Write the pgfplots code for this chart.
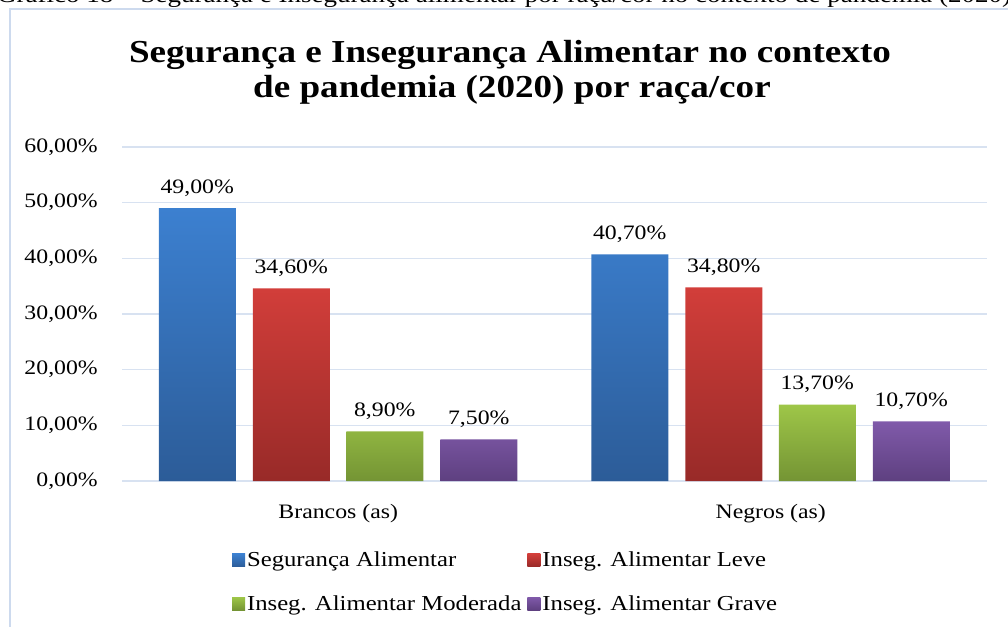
\documentclass[border=0pt]{standalone}
\usepackage{fontspec}
\setmainfont{Liberation Serif}[FakeStretch=1.16]
\usepackage{pgfplots}
\pgfplotsset{compat=1.18}
\definecolor{blueT}{RGB}{60,128,208}
\definecolor{blueB}{RGB}{44,92,152}
\definecolor{redT}{RGB}{210,62,58}
\definecolor{redB}{RGB}{152,42,40}
\definecolor{greenT}{RGB}{158,198,72}
\definecolor{greenB}{RGB}{116,148,52}
\definecolor{purpT}{RGB}{128,90,170}
\definecolor{purpB}{RGB}{94,64,128}
\definecolor{gridc}{RGB}{216,226,241}
\definecolor{framec}{RGB}{205,218,238}
\begin{document}
\begin{tikzpicture}[font=\fontsize{20.5}{24}\selectfont]
\useasboundingbox (0pt,0pt) rectangle (1008pt,626pt);
\draw[framec, line width=1.4pt] (10pt,617pt) rectangle (1040pt,-30pt);
\node[anchor=base west, inner sep=0pt, font=\fontsize{23.3}{27}\selectfont] at (-3pt,623pt) {Gráfico 18 – Segurança e Insegurança alimentar por raça/cor no contexto de pandemia (2020)};
\node[anchor=base, inner sep=0pt, font=\fontsize{32}{35}\selectfont\bfseries] at (510pt,563pt) {Segurança e Insegurança Alimentar no contexto};
\node[anchor=base, inner sep=0pt, font=\fontsize{32}{35}\selectfont\bfseries] at (512pt,528pt) {de pandemia (2020) por raça/cor};
\begin{axis}[
  at={(122pt,145pt)}, anchor=south west,
  scale only axis, width=865pt, height=334pt,
  xmin=-0.5, xmax=1.5, ymin=0, ymax=60,
  ybar, bar width=77pt,
  xtick={0,1}, xticklabels={Brancos (as), Negros (as)},
  ytick={0,10,20,30,40,50,60},
  yticklabels={0{,}00\%,10{,}00\%,20{,}00\%,30{,}00\%,40{,}00\%,50{,}00\%,60{,}00\%},
  ymajorgrids, grid style={color=gridc, line width=1.3pt},
  axis line style={draw=none}, major tick length=0pt,
  yticklabel style={anchor=east, inner sep=0pt, xshift=-24pt},
  xticklabel style={anchor=base, inner sep=0pt, yshift=-37pt},
  nodes near coords={\pgfmathprintnumber[fixed,fixed zerofill,precision=2,use comma,assume math mode=true]{\pgfplotspointmeta}\%},
  every node near coord/.append style={anchor=base, inner sep=0pt, yshift=15pt, text=black},
  legend columns=2, legend cell align=left,
  legend image code/.code={\path[#1,draw=none] (0pt,-6.5pt) rectangle (13pt,6.5pt);},
  legend style={at={(axis description cs:0.127,-0.2066)}, anchor=north west, draw=none, fill=none, inner sep=0pt, row sep=23pt,
    font=\fontsize{21.3}{25}\selectfont,
    /tikz/every even column/.append style={column sep=4pt}},
]
\addplot[draw=none, top color=blueT, bottom color=blueB, bar shift=-141pt] coordinates {(0,49.0) (1,40.7)};
\addplot[draw=none, top color=redT, bottom color=redB, bar shift=-47pt] coordinates {(0,34.6) (1,34.8)};
\addplot[draw=none, top color=greenT, bottom color=greenB, bar shift=46.5pt] coordinates {(0,8.9) (1,13.7)};
\addplot[draw=none, top color=purpT, bottom color=purpB, bar shift=140.5pt] coordinates {(0,7.5) (1,10.7)};
\legend{Segurança Alimentar, Inseg. Alimentar Leve, Inseg. Alimentar Moderada, Inseg. Alimentar Grave}
\end{axis}
\end{tikzpicture}
\end{document}
